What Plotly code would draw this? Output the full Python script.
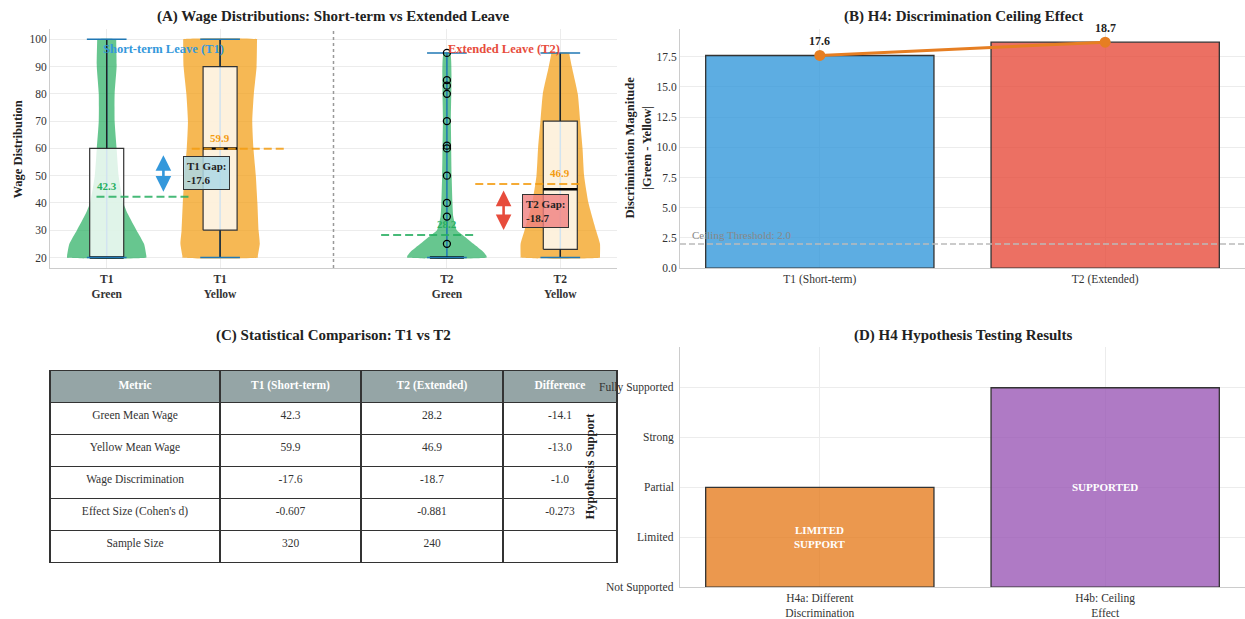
import plotly.graph_objects as go

FONT = "Liberation Serif, Tinos, 'Times New Roman', 'DejaVu Serif', serif"
W, H = 1245, 619
H_PLOT = 613  # vertical extent used for placing panels

# ---------------- data ----------------
# Panel A: wage distributions (density profiles, box statistics, means)
t1g_levels = [20, 20.5, 25, 30, 36, 40, 50, 60, 70, 80, 90, 99.5, 100]
t1g_density = [1.0, 1.0, 0.94, 0.75, 0.53, 0.42, 0.30, 0.25, 0.20, 0.20, 0.25, 0.24, 0.24]
t1y_levels = [20, 20.5, 25, 30, 40, 50, 60, 70, 80, 90, 99.5, 100]
t1y_density = [0.95, 0.95, 1.0, 0.97, 0.94, 0.90, 0.84, 0.81, 0.85, 0.92, 0.93, 0.93]
t2g_levels = [20, 20.5, 22, 25, 28, 30, 35, 40, 50, 70, 95]
t2g_density = [1.0, 1.0, 0.92, 0.67, 0.42, 0.25, 0.16, 0.14, 0.12, 0.10, 0.08]
t2y_levels = [20, 20.5, 25, 30, 40, 50, 60, 70, 80, 90, 94.5, 95]
t2y_density = [1.0, 1.0, 1.0, 0.90, 0.71, 0.60, 0.56, 0.50, 0.44, 0.29, 0.23, 0.23]

group_labels = ["T1<br>Green", "T1<br>Yellow", "T2<br>Green", "T2<br>Yellow"]
box_q1 = [20, 30, 20, 23]
box_median = [20, 60, 20, 45]
box_q3 = [60, 90, 20, 70]
box_low = [20, 20, 20, 20]
box_high = [100, 100, 20, 95]
data_min = [20, 20, 20, 20]
data_max = [100, 100, 95, 95]
t2g_outliers = [25, 35, 40, 50, 60, 61, 70, 80, 83, 85, 95]

green_mean = [42.3, 28.2]
yellow_mean = [59.9, 46.9]

# Panel B: discrimination magnitude
periods = ["T1 (Short-term)", "T2 (Extended)"]
ceiling_threshold = 2.0

# Panel C: statistics table
table_header = ["Metric", "T1 (Short-term)", "T2 (Extended)", "Difference"]
metric_names = ["Green Mean Wage", "Yellow Mean Wage", "Wage Discrimination",
                "Effect Size (Cohen's d)", "Sample Size"]
t1_values = ["42.3", "59.9", "-17.6", "-0.607", "320"]
t2_values = ["28.2", "46.9", "-18.7", "-0.881", "240"]
diff_values = ["-14.1", "-13.0", "-1.0", "-0.273", ""]

# Panel D: hypothesis results
hyp_labels = ["H4a: Different<br>Discrimination", "H4b: Ceiling<br>Effect"]
support_levels = ["Not Supported", "Limited", "Partial", "Strong", "Fully Supported"]
hyp_score = [2, 4]
hyp_verdict = ["LIMITED<br>SUPPORT", "SUPPORTED"]

gaps = [round(g - y, 1) for g, y in zip(green_mean, yellow_mean)]
disc = [abs(v) for v in gaps]

# ---------------- helpers ----------------
def fx(p):
    return p / W


def fy(p):
    return 1 - p / H_PLOT


GREEN = "#27ae60"
ORANGE = "#f39c12"
BLUE = "#3498db"
RED = "#e74c3c"
EXT = "#1f77b4"

fig = go.Figure()
pos = [0, 1, 3, 4]
half = 0.35
box_half = 0.15


def add_a(**kw):
    fig.add_trace(go.Scatter(hoverinfo="skip", showlegend=False, xaxis="x", yaxis="y", **kw))


profiles = [(t1g_levels, t1g_density, "rgba(39,174,96,0.7)"),
            (t1y_levels, t1y_density, "rgba(243,156,18,0.72)"),
            (t2g_levels, t2g_density, "rgba(39,174,96,0.7)"),
            (t2y_levels, t2y_density, "rgba(243,156,18,0.72)")]

# violin bodies
for p, (lv, dn, col) in zip(pos, profiles):
    xs = [p + half * d for d in dn] + [p - half * d for d in reversed(dn)] + [p + half * dn[0]]
    ys = list(lv) + list(reversed(lv)) + [lv[0]]
    add_a(x=xs, y=ys, mode="lines", fill="toself", fillcolor=col,
          line=dict(width=0, color=col, shape="spline", smoothing=0.5))

# violin extrema bars
bx, by = [], []
for p, lo, hi in zip(pos, data_min, data_max):
    bx += [p, p, None]
    by += [lo, hi, None]
add_a(x=bx, y=by, mode="lines", line=dict(color=EXT, width=1.5))

# box bodies
for i, p in enumerate(pos):
    add_a(x=[p - box_half, p + box_half, p + box_half, p - box_half, p - box_half],
          y=[box_q1[i], box_q1[i], box_q3[i], box_q3[i], box_q1[i]],
          mode="lines", fill="toself", fillcolor="rgba(255,255,255,0.8)",
          line=dict(color="#333333", width=1.2))

# whiskers
wx, wy = [], []
for i, p in enumerate(pos):
    wx += [p, p, None, p, p, None]
    wy += [box_low[i], box_q1[i], None, box_q3[i], box_high[i], None]
add_a(x=wx, y=wy, mode="lines", line=dict(color="#222222", width=1.4))

# medians
mx, my = [], []
for p, m in zip(pos, box_median):
    mx += [p - box_half, p + box_half, None]
    my += [m, m, None]
add_a(x=mx, y=my, mode="lines", line=dict(color="black", width=2.5))

# extrema caps
cx, cy = [], []
for p, lo, hi in zip(pos, data_min, data_max):
    for v in (lo, hi):
        cx += [p - 0.175, p + 0.175, None]
        cy += [v, v, None]
add_a(x=cx, y=cy, mode="lines", line=dict(color=EXT, width=1.5))

# outliers of T2 green
add_a(x=[pos[2]] * len(t2g_outliers), y=t2g_outliers, mode="markers",
      marker=dict(symbol="circle-open", size=7, color="black", line=dict(width=1.3, color="black")))

# mean lines
mean_spans = [((-0.09, 0.75), (0.75, 1.59)), ((2.42, 3.25), (3.25, 4.17))]
for k in range(2):
    (g0, g1), (y0, y1) = mean_spans[k]
    add_a(x=[g0, g1], y=[green_mean[k]] * 2, mode="lines",
          line=dict(color="rgba(39,174,96,0.85)", width=2, dash="8px,4px"))
    add_a(x=[y0, y1], y=[yellow_mean[k]] * 2, mode="lines",
          line=dict(color="rgba(243,156,18,0.85)", width=2, dash="8px,4px"))

annotations = []
for k in range(2):
    annotations.append(dict(x=pos[2 * k], y=green_mean[k], xref="x", yref="y", yshift=11,
                            text=f"<b>{green_mean[k]:.1f}</b>", showarrow=False,
                            font=dict(family=FONT, size=11, color=GREEN)))
    annotations.append(dict(x=pos[2 * k + 1], y=yellow_mean[k], xref="x", yref="y", yshift=11,
                            text=f"<b>{yellow_mean[k]:.1f}</b>", showarrow=False,
                            font=dict(family=FONT, size=11, color=ORANGE)))

# gap arrows and labels
arrow_x = [0.5, 3.5]
arrow_col = [BLUE, RED]
label_pos = [(0.876, 51.1), (3.87, 37.2)]
label_bg = ["rgba(173,216,230,0.85)", "rgba(240,128,128,0.8)"]
for k in range(2):
    annotations.append(dict(x=arrow_x[k], y=green_mean[k], ax=arrow_x[k], ay=yellow_mean[k],
                            xref="x", yref="y", axref="x", ayref="y", text="",
                            showarrow=True, arrowhead=2, arrowside="end+start",
                            arrowsize=1.2, arrowwidth=2.6, arrowcolor=arrow_col[k],
                            standoff=5, startstandoff=5))
    annotations.append(dict(x=label_pos[k][0], y=label_pos[k][1], xref="x", yref="y",
                            text=f"<b>T{k + 1} Gap:<br>{gaps[k]:.1f}</b>", align="left",
                            showarrow=False, bgcolor=label_bg[k], bordercolor="#333333",
                            borderwidth=1, borderpad=3,
                            font=dict(family=FONT, size=11, color="#222222")))

annotations.append(dict(x=0.5, y=96.5, xref="x", yref="y", text="<b>Short-term Leave (T1)</b>",
                        showarrow=False, font=dict(family=FONT, size=12.5, color=BLUE)))
annotations.append(dict(x=3.5, y=96.5, xref="x", yref="y", text="<b>Extended Leave (T2)</b>",
                        showarrow=False, font=dict(family=FONT, size=12.5, color=RED)))

shapes = [dict(type="line", xref="x", yref="y domain", x0=2, x1=2, y0=0, y1=1,
               line=dict(color="#999999", width=1.5, dash="dot"))]

# ---------------- panel B ----------------
fig.add_trace(go.Bar(x=[0, 1], y=disc, width=0.8,
                     marker=dict(color=["rgba(52,152,219,0.8)", "rgba(231,76,60,0.8)"],
                                 line=dict(color="#333333", width=1.3)),
                     hoverinfo="skip", showlegend=False, xaxis="x2", yaxis="y2"))
fig.add_trace(go.Scatter(x=[0, 1], y=disc, mode="lines+markers",
                         line=dict(color="#e67e22", width=3),
                         marker=dict(size=11, color="#e67e22"),
                         hoverinfo="skip", showlegend=False, xaxis="x2", yaxis="y2"))
for i, v in enumerate(disc):
    annotations.append(dict(x=i, y=v, xref="x2", yref="y2", yshift=14, text=f"<b>{v:.1f}</b>",
                            showarrow=False, font=dict(family=FONT, size=12, color="#222222")))
shapes.append(dict(type="line", xref="x2 domain", yref="y2", x0=0, x1=1,
                   y0=ceiling_threshold, y1=ceiling_threshold,
                   line=dict(color="#bbbbbb", width=1.6, dash="6px,3px")))
annotations.append(dict(x=fx(690), y=ceiling_threshold, xref="paper", yref="y2", yshift=9,
                        xanchor="left", text=f"Ceiling Threshold: {ceiling_threshold:.1f}",
                        showarrow=False, font=dict(family=FONT, size=11, color="#888888")))

# ---------------- panel C ----------------
fig.add_trace(go.Table(
    domain=dict(x=[fx(50), fx(617)], y=[0, fy(372)]),
    columnwidth=[170, 141, 142, 114],
    header=dict(values=[f"<b>{h}</b>" for h in table_header], height=32,
                fill_color="#95a5a6", line=dict(color="#333333", width=1.3),
                font=dict(family=FONT, size=11.5, color="white"), align="center"),
    cells=dict(values=[metric_names, t1_values, t2_values, diff_values], height=32,
               fill_color="white", line=dict(color="#333333", width=1.3),
               font=dict(family=FONT, size=11.5, color="#333333"), align="center")))

# ---------------- panel D ----------------
fig.add_trace(go.Bar(x=[0, 1], y=hyp_score, width=0.8,
                     marker=dict(color=["rgba(230,126,34,0.8)", "rgba(155,89,182,0.8)"],
                                 line=dict(color="#333333", width=1.3)),
                     hoverinfo="skip", showlegend=False, xaxis="x3", yaxis="y3"))
for i, (s, t) in enumerate(zip(hyp_score, hyp_verdict)):
    annotations.append(dict(x=i, y=s / 2, xref="x3", yref="y3", text=f"<b>{t}</b>",
                            showarrow=False, font=dict(family=FONT, size=11, color="white")))

tick_font = dict(family=FONT, size=11.5, color="#333333")
# support-level labels sit above the table, so they are placed as annotations on the y3 scale
for lvl, name in enumerate(support_levels):
    annotations.append(dict(x=fx(676), y=lvl, xref="paper", yref="y3", xanchor="right",
                            yanchor="middle", text=name, showarrow=False, font=tick_font))

# ---------------- titles ----------------
title_font = dict(family=FONT, size=15, color="#222222")
for txt, xp, yp in [("(A) Wage Distributions: Short-term vs Extended Leave", 333, 17),
                    ("(B) H4: Discrimination Ceiling Effect", 963, 17),
                    ("(C) Statistical Comparison: T1 vs T2", 333, 337),
                    ("(D) H4 Hypothesis Testing Results", 963, 337)]:
    annotations.append(dict(x=fx(xp), y=fy(yp), xref="paper", yref="paper", text=f"<b>{txt}</b>",
                            xanchor="center", yanchor="middle", showarrow=False, font=title_font))

axis_title_font = dict(family=FONT, size=12.5, color="#222222")
for txt, xp, yp in [("Wage Distribution", 18, 150),
                    ("Discrimination Magnitude<br>|Green - Yellow|", 638, 148),
                    ("Hypothesis Support", 590, 468)]:
    annotations.append(dict(x=fx(xp), y=fy(yp), xref="paper", yref="paper", textangle=-90,
                            xanchor="center", yanchor="middle", text=f"<b>{txt}</b>",
                            showarrow=False, font=axis_title_font))

common_axis = dict(showline=True, linecolor="#cccccc", linewidth=1, zeroline=False,
                   showgrid=True, gridcolor="#ececec", ticks="", tickfont=tick_font)

fig.update_layout(
    width=W, height=H, margin=dict(l=0, r=0, t=0, b=0),
    paper_bgcolor="white", plot_bgcolor="white", showlegend=False,
    font=dict(family=FONT),
    xaxis=dict(domain=[fx(50), fx(617)], range=[-0.5, 4.5], anchor="y",
               tickvals=pos, ticktext=[f"<b>{g}</b>" for g in group_labels], **common_axis),
    yaxis=dict(domain=[fy(269), fy(29)], range=[16.1, 103.8], anchor="x",
               tickvals=list(range(20, 101, 10)), **common_axis),
    xaxis2=dict(domain=[fx(680), 1.0], range=[-0.49, 1.49], anchor="y2",
                tickvals=[0, 1], ticktext=periods, **common_axis),
    yaxis2=dict(domain=[fy(269), fy(29)], range=[0, 19.8], anchor="x2",
                tickvals=[0, 2.5, 5, 7.5, 10, 12.5, 15, 17.5], tickformat=".1f", **common_axis),
    xaxis3=dict(domain=[fx(680), 1.0], range=[-0.49, 1.49], anchor="y3",
                tickvals=[0, 1], ticktext=hyp_labels, **common_axis),
    yaxis3=dict(domain=[fy(589), fy(348)], range=[0, 4.82], anchor="x3",
                tickvals=list(range(len(support_levels))), showticklabels=False, **common_axis),
    annotations=annotations, shapes=shapes,
)

fig.write_html("out.html")
